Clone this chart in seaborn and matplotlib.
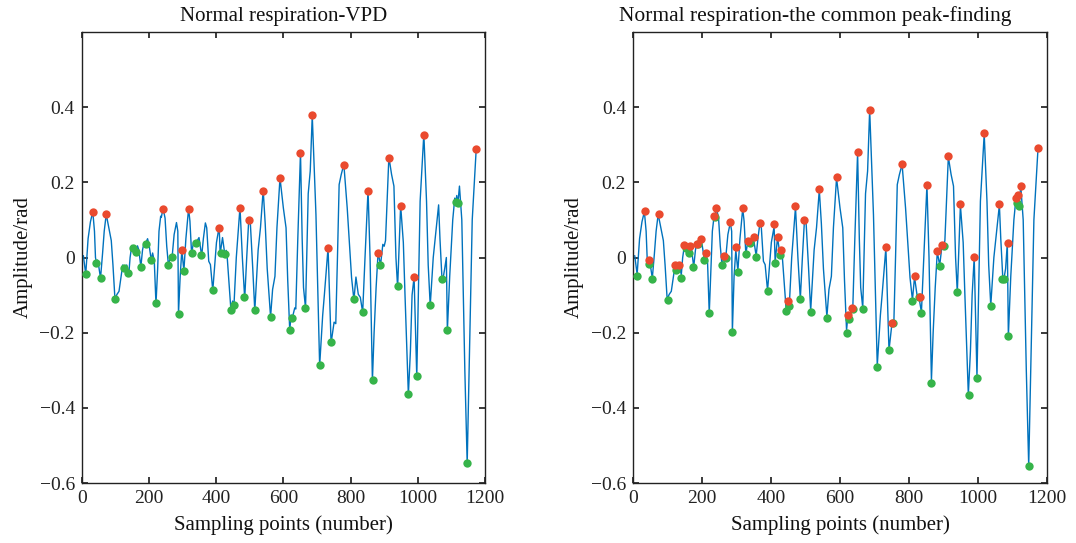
import numpy as np
import pandas as pd
import matplotlib
matplotlib.use("Agg")
import matplotlib.pyplot as plt
import seaborn as sns
from matplotlib.ticker import FuncFormatter

# respiration signal, vertices (sample index, rad)
sample_x = [5, 12, 19, 26, 33, 38, 41, 44, 47, 51,
            56, 62, 67, 73, 81, 88, 93, 99, 105, 111,
            118, 122, 126, 131, 134, 140, 144, 149, 154, 158,
            162, 166, 170, 176, 181, 185, 189, 196, 201, 207,
            211, 216, 221, 226, 230, 235, 237, 242, 248, 253,
            258, 265, 269, 275, 282, 286, 288, 293, 298, 304,
            310, 318, 322, 327, 333, 339, 349, 352, 357, 362,
            368, 372, 378, 383, 390, 395, 401, 409, 412, 419,
            426, 430, 433, 444, 449, 453, 460, 471, 478, 485,
            491, 497, 502, 509, 515, 525, 532, 540, 546, 552,
            562, 568, 575, 581, 590, 600, 608, 613, 619, 623,
            626, 634, 637, 643, 651, 656, 660, 666, 674, 680,
            686, 697, 708, 717, 722, 733, 742, 751, 756, 761,
            766, 772, 780, 790, 798, 803, 810, 816, 823, 829,
            836, 843, 852, 858, 865, 870, 876, 882, 889, 896,
            900, 904, 914, 922, 929, 935, 940, 949, 957, 962,
            972, 978, 983, 989, 997, 1007, 1018, 1026, 1031, 1037,
            1046, 1054, 1062, 1066, 1072, 1075, 1080, 1085, 1088, 1095,
            1104, 1110, 1113, 1116, 1119, 1124, 1131, 1140, 1147, 1155,
            1162, 1174]
amp_vpd = [0.005, -0.045, 0.05, 0.095, 0.122, 0.07, 0.0, -0.015, -0.007, -0.025,
           -0.055, 0.01, 0.07, 0.115, 0.078, 0.045, -0.02, -0.111, -0.098, -0.090,
           -0.045, -0.020, -0.030, -0.022, -0.020, -0.046, 0.0, 0.032, 0.025, 0.02,
           0.014, 0.031, 0.02, -0.025, 0.02, 0.037, 0.035, 0.050, 0.03, -0.007,
           0.012, -0.01, -0.124, -0.03, 0.07, 0.110, 0.107, 0.131, 0.105, 0.03,
           -0.020, 0.004, 0.001, 0.061, 0.093, 0.07, -0.150, -0.05, 0.020, -0.036,
           0.05, 0.130, 0.097, 0.010, 0.043, 0.038, 0.053, 0.035, 0.004, 0.05,
           0.092, 0.079, -0.010, -0.019, -0.088, -0.03, 0.04, 0.082, 0.010, 0.053,
           0.007, 0.019, 0.0, -0.140, -0.116, -0.128, 0.0, 0.134, 0.0, -0.110,
           0.0, 0.100, 0.088, -0.03, -0.142, 0.02, 0.08, 0.180, 0.09, -0.03,
           -0.158, -0.085, -0.05, 0.08, 0.212, 0.132, 0.079, -0.06, -0.194, -0.153,
           -0.163, -0.134, -0.137, 0.05, 0.280, 0.05, -0.08, -0.135, 0.17, 0.23,
           0.378, 0.114, -0.288, -0.154, -0.1, 0.026, -0.228, -0.172, -0.176, 0.0,
           0.194, 0.22, 0.248, 0.132, 0.017, -0.054, -0.113, -0.052, -0.098, -0.106,
           -0.146, 0.0, 0.180, 0.0, -0.328, -0.2, -0.08, 0.015, -0.021, 0.035,
           0.030, 0.045, 0.268, 0.221, 0.19, 0.0, -0.080, 0.139, 0.04, -0.1,
           -0.365, -0.25, -0.1, -0.052, -0.318, 0.15, 0.329, 0.15, -0.02, -0.128,
           0.0, 0.07, 0.140, 0.05, -0.057, -0.057, -0.03, 0.0, -0.195, -0.05,
           0.10, 0.158, 0.146, 0.165, 0.140, 0.190, 0.1, -0.3, -0.548, -0.2,
           0.1, 0.291]
# where the right-hand trace differs from the left one
common_changes = {221: -0.149, 288: -0.199, 412: -0.012, 686: 0.393, 742: -0.247,
                  852: 0.193, 940: -0.093, 989: 0.001, 1085: 0.039, 1088: -0.210,
                  1147: -0.555}

# VPD detections
vpd_peak_x = [33, 73, 242, 298, 318, 409, 471, 497, 540, 590, 651, 686, 733, 780,
              852, 882, 914, 949, 989, 1018, 1174]
vpd_peak_y = [0.122, 0.115, 0.130, 0.019, 0.128, 0.078, 0.132, 0.099, 0.178, 0.211,
              0.278, 0.378, 0.025, 0.247, 0.178, 0.013, 0.266, 0.136, -0.052, 0.326, 0.290]
vpd_valley_x = [12, 44, 56, 99, 126, 139, 153, 163, 176, 190,
                206, 222, 258, 268, 289, 305, 327, 339, 356, 390,
                413, 426, 444, 453, 484, 516, 562, 619, 627, 665,
                708, 743, 810, 836, 866, 889, 940, 972, 997, 1036,
                1073, 1088, 1113, 1120, 1146]
vpd_valley_y = [-0.043, -0.014, -0.054, -0.110, -0.029, -0.040, 0.026, 0.015, -0.024, 0.035,
                -0.006, -0.122, -0.019, 0.002, -0.150, -0.035, 0.012, 0.038, 0.007, -0.087,
                0.012, 0.008, -0.139, -0.126, -0.106, -0.139, -0.157, -0.192, -0.162, -0.134,
                -0.285, -0.225, -0.110, -0.144, -0.326, -0.020, -0.075, -0.363, -0.316, -0.126,
                -0.057, -0.193, 0.148, 0.146, -0.546]

# common peak-finding detections
common_peak_x = [34, 47, 74, 122, 134, 149, 166, 185, 196, 211,
                 235, 242, 265, 282, 299, 318, 334, 350, 368, 410,
                 419, 430, 450, 471, 497, 540, 590, 623, 636, 651,
                 686, 733, 751, 781, 817, 831, 853, 882, 897, 914,
                 949, 988, 1018, 1062, 1086, 1109, 1116, 1124, 1175]
common_peak_y = [0.123, -0.007, 0.115, -0.020, -0.020, 0.032, 0.031, 0.037, 0.050, 0.012,
                 0.110, 0.132, 0.004, 0.094, 0.027, 0.132, 0.043, 0.055, 0.092, 0.090,
                 0.054, 0.020, -0.115, 0.137, 0.100, 0.182, 0.214, -0.153, -0.134, 0.282,
                 0.393, 0.027, -0.174, 0.250, -0.050, -0.106, 0.193, 0.018, 0.034, 0.270,
                 0.142, 0.001, 0.332, 0.142, 0.039, 0.159, 0.166, 0.191, 0.292]
common_valley_x = [12, 45, 56, 100, 126, 140, 154, 161, 175, 189,
                   207, 220, 237, 258, 269, 287, 304, 327, 339, 357,
                   391, 411, 426, 444, 453, 485, 515, 563, 620, 626,
                   637, 666, 708, 741, 755, 809, 828, 836, 865, 889,
                   900, 940, 973, 997, 1037, 1071, 1075, 1087, 1113, 1118,
                   1148]
common_valley_y = [-0.049, -0.017, -0.057, -0.112, -0.032, -0.054, 0.024, 0.013, -0.026, 0.035,
                   -0.007, -0.149, 0.108, -0.021, 0.0, -0.199, -0.038, 0.008, 0.038, 0.002,
                   -0.090, -0.014, 0.006, -0.142, -0.129, -0.111, -0.145, -0.160, -0.200, -0.164,
                   -0.137, -0.137, -0.291, -0.247, -0.175, -0.116, -0.106, -0.148, -0.334, -0.022,
                   0.031, -0.093, -0.367, -0.321, -0.130, -0.057, -0.057, -0.210, 0.144, 0.136,
                   -0.555]

x_ticks = [0, 200, 400, 600, 800, 1000, 1200]
y_ticks = [-0.6, -0.4, -0.2, 0, 0.2, 0.4]

LINE = "#0072BD"
PEAK = "#EA4A2E"
VALLEY = "#36B44A"

sns.set_theme(style="ticks", rc={
    "axes.edgecolor": "#222222",
    "axes.linewidth": 1.0,
    "xtick.direction": "in",
    "ytick.direction": "in",
    "xtick.major.size": 4,
    "ytick.major.size": 4,
    "xtick.top": True,
    "ytick.right": True,
    "text.color": "#111111",
    "axes.labelcolor": "#111111",
    "xtick.color": "#222222",
    "ytick.color": "#222222",
})
plt.rcParams["font.family"] = ["Liberation Serif", "DejaVu Serif"]

sig_vpd = pd.DataFrame({"x": sample_x, "y": amp_vpd})
sig_common = sig_vpd.copy()
sig_common["y"] = [common_changes.get(s, v) for s, v in zip(sample_x, amp_vpd)]

# title, signal, detections, axes rect, title x (axes fraction), title size
panels = [
    ("Normal respiration-VPD", sig_vpd, vpd_peak_x, vpd_peak_y, vpd_valley_x, vpd_valley_y,
     [81.7 / 1076, 60 / 543, 403.3 / 1076, 451 / 543], 0.5, 15),
    ("Normal respiration-the common peak-finding", sig_common, common_peak_x, common_peak_y,
     common_valley_x, common_valley_y,
     [633 / 1076, 60 / 543, 414 / 1076, 451 / 543], 0.44, 15.5),
]

fig = plt.figure(figsize=(10.76, 5.43), dpi=100)
fmt = FuncFormatter(lambda v, p: f"{v:g}".replace("-", "\u2212"))

for title, sig, px, py, vx, vy, rect, tx, tsize in panels:
    ax = fig.add_axes(rect)
    sns.lineplot(data=sig, x="x", y="y", sort=False, estimator=None, color=LINE,
                 linewidth=1.0, ax=ax, zorder=2)
    sns.scatterplot(x=vx, y=vy, color=VALLEY, s=36, linewidth=0, ax=ax, zorder=3)
    sns.scatterplot(x=px, y=py, color=PEAK, s=36, linewidth=0, ax=ax, zorder=3)
    ax.set_xlim(0, 1200)
    ax.set_ylim(-0.6, 0.6)
    ax.set_xticks(x_ticks)
    ax.set_yticks(y_ticks)
    ax.yaxis.set_major_formatter(fmt)
    ax.tick_params(labelsize=14, pad=5)
    for sp in ax.spines.values():
        sp.set_visible(True)
    ax.set_title(title, fontsize=tsize, pad=8, x=tx)
    ax.set_xlabel("Sampling points (number)", fontsize=15, labelpad=6)
    ax.set_ylabel("Amplitude/rad", fontsize=15, labelpad=5)

fig.savefig("out.png", dpi=100)
